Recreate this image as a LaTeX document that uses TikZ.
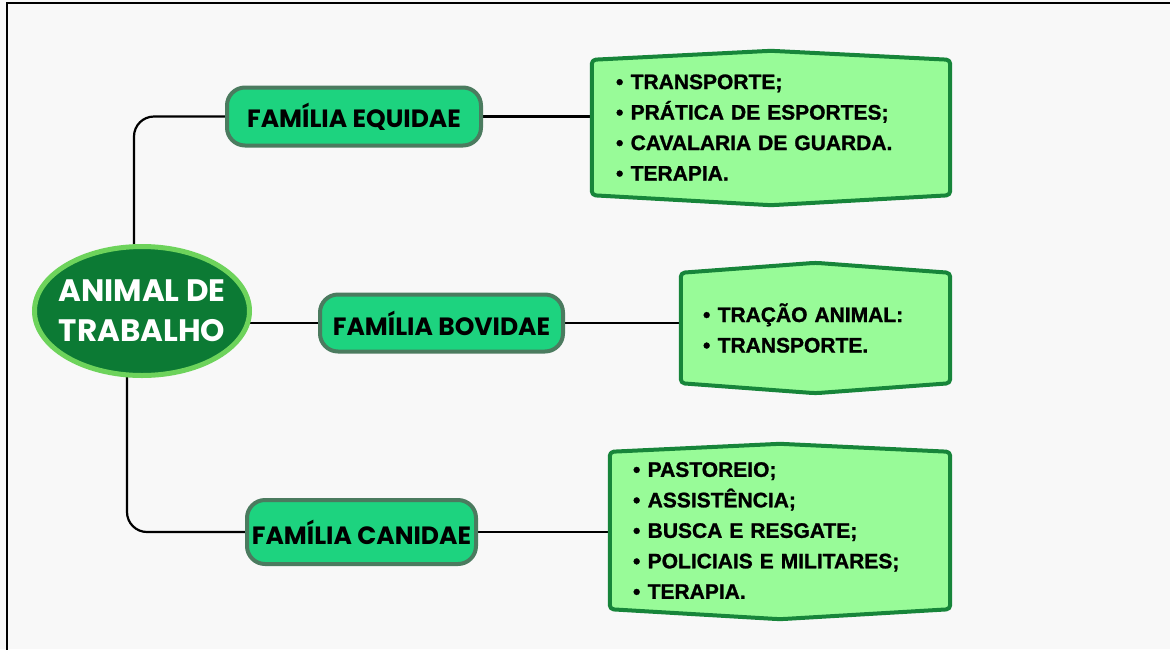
\documentclass[tikz,border=0pt]{standalone}
\usepackage{fontspec}
\setmainfont{Liberation Sans}
\newfontfamily\popfont{Poppins}
\newfontfamily\listfont[FakeBold=1.2]{Liberation Sans Bold}
\usetikzlibrary{calc,shapes.geometric}
\definecolor{bgc}{HTML}{F8F8F8}
\definecolor{elf}{HTML}{0C7A34}
\definecolor{elb}{HTML}{6DD35B}
\definecolor{tf}{HTML}{1DD37F}
\definecolor{tb}{HTML}{4B7B5F}
\definecolor{lf}{HTML}{98FB98}
\definecolor{lb}{HTML}{17853A}
\pgfdeclarelayer{bglayer}
\pgfdeclarelayer{lines}
\pgfdeclarelayer{shapes}
\pgfsetlayers{bglayer,lines,shapes,main}
\tikzset{
  centre/.style={ellipse, draw=elb, line width=5pt, fill=elf, minimum width=215pt,
    minimum height=129pt, inner sep=0pt},
  centretext/.style={text=white, align=center, inner sep=0pt,
    font=\popfont\bfseries\fontsize{31}{40}\selectfont},
  family/.style={rectangle, rounded corners=18pt, draw=tb, line width=4pt, fill=tf,
    inner sep=0pt, font=\popfont\bfseries\fontsize{25}{28}\selectfont},
  listbox/.style={rectangle, inner ysep=0pt, align=left,
    font=\listfont\fontsize{21}{30.5}\selectfont},
  listshape/.style={draw=lb, fill=lf, line width=4pt, rounded corners=4pt, line join=round},
  conn/.style={draw=black, line width=2.2pt, rounded corners=20pt}
}
\begin{document}
\begin{tikzpicture}[x=1pt,y=-1pt]
\useasboundingbox (0,0) rectangle (1170,649);
\begin{pgfonlayer}{bglayer}
\fill[bgc] (0,0) rectangle (1170,649);
\draw[line width=2.5pt] (1171,3) -- (7,3) -- (7,650);
\end{pgfonlayer}

\node[centre, label={[centretext]center:ANIMAL DE\\TRABALHO}] (C) at (142,311) {};

\node[family, minimum width=254pt, minimum height=58pt] (E) at (354,116.5) {FAMÍLIA EQUIDAE};
\node[family, minimum width=243pt, minimum height=57pt] (B) at (441.5,323) {FAMÍLIA BOVIDAE};
\node[family, minimum width=229pt, minimum height=64pt] (K) at (361.5,532) {FAMÍLIA CANIDAE};

\node[listbox, minimum height=135pt, inner xsep=24pt, text width=310pt] (L1) at (771,127.5)
  {•\hspace{0.35em}TRANSPORTE;\\•\hspace{0.35em}PRÁTICA DE ESPORTES;\\•\hspace{0.35em}CAVALARIA DE GUARDA.\\•\hspace{0.35em}TERAPIA.};
\node[listbox, minimum height=110pt, inner xsep=22pt, text width=225pt] (L2) at (815.5,328)
  {•\hspace{0.35em}TRAÇÃO ANIMAL:\\•\hspace{0.35em}TRANSPORTE.};
\node[listbox, minimum height=157pt, inner xsep=23pt, text width=294pt] (L3) at (780,530.5)
  {•\hspace{0.35em}PASTOREIO;\\•\hspace{0.35em}ASSISTÊNCIA;\\•\hspace{0.35em}BUSCA E RESGATE;\\•\hspace{0.35em}POLICIAIS E MILITARES;\\•\hspace{0.35em}TERAPIA.};

\begin{pgfonlayer}{shapes}
\foreach \n/\u/\d in {L1/9/10, L2/10/10, L3/8/10}{
  \draw[listshape] (\n.north west) -- ($(\n.north)+(0,-\u)$) -- (\n.north east)
    -- (\n.south east) -- ($(\n.south)+(0,\d)$) -- (\n.south west) -- cycle;
}
\end{pgfonlayer}

\begin{pgfonlayer}{lines}
\draw[conn] ($(C.center)+(-8,0)$) |- (E.west);
\draw[conn] (C.center |- B.west) -- (B.west);
\draw[conn] ($(C.center)+(-15,0)$) |- (K.west);
\draw[conn] (E.east) -- (E.east -| L1.west);
\draw[conn] (B.east) -- (B.east -| L2.west);
\draw[conn] (K.east) -- (K.east -| L3.west);
\end{pgfonlayer}
\end{tikzpicture}
\end{document}
